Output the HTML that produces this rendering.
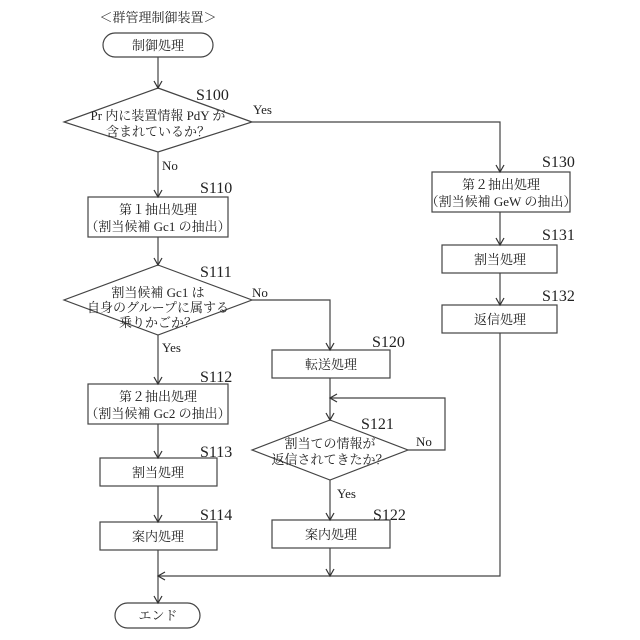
<!DOCTYPE html>
<html><head><meta charset="utf-8"><style>
html,body{margin:0;padding:0;background:#fff}
svg{display:block}
text{font-family:"Liberation Serif","Noto Serif CJK SC","Noto Sans CJK JP",serif;fill:#222}
.t{font-size:13px;text-anchor:middle}
.s{font-size:16px}
.l{font-size:13px}
</style></head><body>
<svg width="640" height="640" viewBox="0 0 640 640" xmlns="http://www.w3.org/2000/svg">
<defs><marker id="a" markerWidth="10" markerHeight="10" refX="8" refY="5" orient="auto" markerUnits="userSpaceOnUse"><path d="M1,1 L8,5 L1,9" fill="none" stroke="#333" stroke-width="1.2"/></marker></defs>
<g fill="none" stroke="#444" stroke-width="1.2">
<rect x="103" y="33" width="110" height="24" rx="12"/>
<polygon points="158,88 252,122 158,152 64,122" fill="#fff"/>
<rect x="88" y="197" width="140" height="40"/>
<polygon points="158,265 252,300 158,335 64,300" fill="#fff"/>
<rect x="88" y="384" width="140" height="40"/>
<rect x="100" y="458" width="117" height="28"/>
<rect x="100" y="522" width="117" height="28"/>
<rect x="115" y="603" width="85" height="25" rx="12.5"/>
<rect x="272" y="350" width="118" height="28"/>
<polygon points="330,420 408,450 330,480 252,450" fill="#fff"/>
<rect x="272" y="520" width="118" height="28"/>
<rect x="432" y="172" width="138" height="40"/>
<rect x="442" y="245" width="115" height="28"/>
<rect x="442" y="305" width="115" height="28"/>
<path d="M158,57V88" marker-end="url(#a)"/>
<path d="M158,152V197" marker-end="url(#a)"/>
<path d="M158,237V265" marker-end="url(#a)"/>
<path d="M158,335V384" marker-end="url(#a)"/>
<path d="M158,424V458" marker-end="url(#a)"/>
<path d="M158,486V522" marker-end="url(#a)"/>
<path d="M158,550V603" marker-end="url(#a)"/>
<path d="M252,122H500V172" marker-end="url(#a)"/>
<path d="M500,212V245" marker-end="url(#a)"/>
<path d="M500,273V305" marker-end="url(#a)"/>
<path d="M500,333V576H158" marker-end="url(#a)"/>
<path d="M252,300H330V350" marker-end="url(#a)"/>
<path d="M330,378V420" marker-end="url(#a)"/>
<path d="M408,450H445V398H330" marker-end="url(#a)"/>
<path d="M330,480V520" marker-end="url(#a)"/>
<path d="M330,548V576" marker-end="url(#a)"/>
</g>
<text class="t" x="158" y="22">＜群管理制御装置＞</text>
<text class="t" x="158" y="50">制御処理</text>
<text class="t" x="158" y="120">Pr 内に装置情報 PdY が</text>
<text class="t" x="158" y="136">含まれているか？</text>
<text class="t" x="158" y="214">第１抽出処理</text>
<text class="t" x="158" y="231">（割当候補 Gc1 の抽出）</text>
<text class="t" x="158" y="297">割当候補 Gc1 は</text>
<text class="t" x="158" y="312">自身のグループに属する</text>
<text class="t" x="158" y="327">乗りかごか？</text>
<text class="t" x="158" y="401">第２抽出処理</text>
<text class="t" x="158" y="418">（割当候補 Gc2 の抽出）</text>
<text class="t" x="158" y="477">割当処理</text>
<text class="t" x="158" y="541">案内処理</text>
<text class="t" x="158" y="620">エンド</text>
<text class="t" x="331" y="369">転送処理</text>
<text class="t" x="330" y="448">割当ての情報が</text>
<text class="t" x="330" y="464">返信されてきたか？</text>
<text class="t" x="331" y="539">案内処理</text>
<text class="t" x="501" y="189">第２抽出処理</text>
<text class="t" x="501" y="206">（割当候補 GeW の抽出）</text>
<text class="t" x="500" y="264">割当処理</text>
<text class="t" x="500" y="324">返信処理</text>
<text class="s" x="196" y="100">S100</text>
<text class="s" x="200" y="193">S110</text>
<text class="s" x="200" y="277">S111</text>
<text class="s" x="200" y="382">S112</text>
<text class="s" x="200" y="457">S113</text>
<text class="s" x="200" y="520">S114</text>
<text class="s" x="372" y="347">S120</text>
<text class="s" x="361" y="429">S121</text>
<text class="s" x="373" y="520">S122</text>
<text class="s" x="542" y="167">S130</text>
<text class="s" x="542" y="240">S131</text>
<text class="s" x="542" y="301">S132</text>
<text class="l" x="253" y="114">Yes</text>
<text class="l" x="162" y="170">No</text>
<text class="l" x="252" y="297">No</text>
<text class="l" x="162" y="352">Yes</text>
<text class="l" x="416" y="446">No</text>
<text class="l" x="337" y="498">Yes</text>
</svg>
</body></html>
